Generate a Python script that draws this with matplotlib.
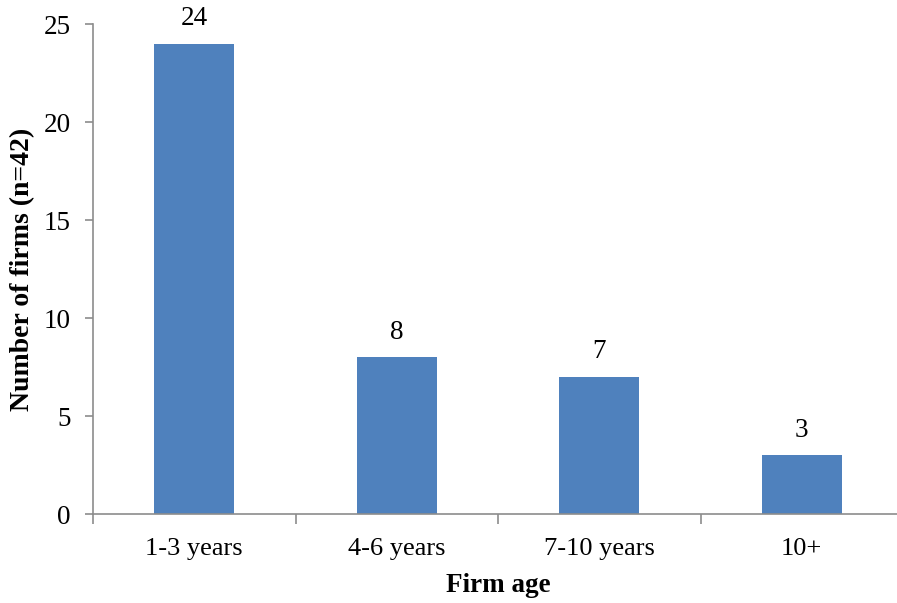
import matplotlib
matplotlib.use('Agg')
import matplotlib.pyplot as plt

plt.rcParams['font.family'] = ['Liberation Serif', 'DejaVu Serif']

categories = ['1-3 years', '4-6 years', '7-10 years', '10+']
firms = [24, 8, 7, 3]
yticks = [0, 5, 10, 15, 20, 25]

fig = plt.figure(figsize=(8.97, 6.03), dpi=100)
ax = fig.add_axes([93/897, 89/603, 810/897, 490/603])

x = range(len(categories))
bars = ax.bar(x, firms, width=0.395, color='#4F81BD', zorder=2)

for b, v in zip(bars, firms):
    ax.annotate(str(v), (b.get_x() + b.get_width()/2, v), xytext=(0, 9),
                textcoords='offset points', ha='center', va='bottom', fontsize=19.5)

ax.set_xlim(-0.5, len(categories) - 0.5)
ax.set_ylim(0, 25)
ax.set_yticks(yticks)
ax.tick_params(axis='y', labelsize=19.5, length=6, width=1.2, color='#8c8c8c', pad=10)

# category labels between boundary ticks, like Excel
ax.set_xticks([i - 0.5 for i in range(len(categories) + 1)])
ax.set_xticklabels([])
ax.set_xticks(list(x), minor=True)
ax.set_xticklabels(categories, minor=True, fontsize=19)
ax.tick_params(axis='x', which='major', length=7, width=1.2, color='#8c8c8c')
ax.tick_params(axis='x', which='minor', length=0, pad=17)

for s in ['top', 'right']:
    ax.spines[s].set_visible(False)
for s in ['left', 'bottom']:
    ax.spines[s].set_color('#8c8c8c')
    ax.spines[s].set_linewidth(1.2)

ax.set_xlabel('Firm age', fontsize=19.5, fontweight='bold', labelpad=10)
ax.set_ylabel('Number of firms (n=42)', fontsize=20, fontweight='bold', labelpad=6)

fig.savefig('out.png', dpi=100)
